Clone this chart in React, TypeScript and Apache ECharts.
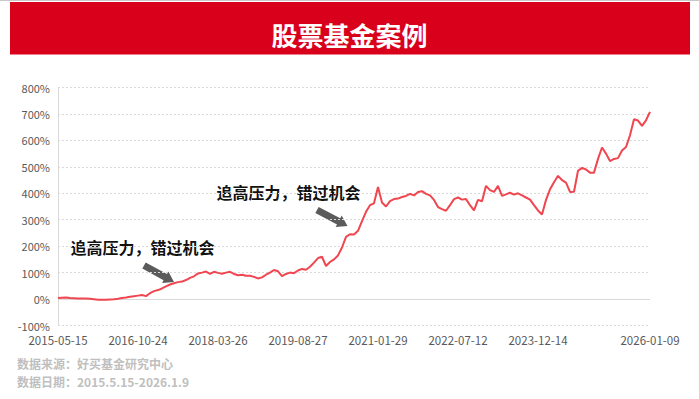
import React, { useEffect, useRef } from "react";
import * as echarts from "echarts";

// Cumulative return (%) sampled along the trading-day axis
const values: number[] = [
  4, 5, 6, 4, 3, 2, 2, 2, 1, -1,
  -3, -3, -3, -2, -1, 1, 4, 6, 9, 11,
  13, 15, 11, 22, 30, 34, 40, 48, 55, 60,
  64, 66, 72, 80, 86, 97, 100, 104, 95, 103,
  99, 96, 100, 103, 95, 90, 92, 88, 88, 84,
  78, 82, 92, 100, 110, 105, 87, 95, 100, 98,
  108, 114, 111, 122, 138, 155, 160, 125, 140, 150,
  165, 195, 235, 245, 244, 258, 295, 330, 355, 362,
  424, 365, 350, 370, 378, 380, 386, 390, 398, 392,
  405, 408, 398, 392, 375, 348, 340, 334, 355, 378,
  384, 376, 378, 355, 335, 375, 370, 428, 412, 405,
  428, 390, 396, 402, 395, 400, 392, 384, 376, 355,
  335, 320, 375, 415, 442, 466, 450, 440, 405, 406,
  485, 496, 490, 478, 478, 530, 573, 550, 522, 530,
  533, 562, 575, 619, 680, 675, 655, 676, 708,
];

const tickLabels = [
  "2015-05-15",
  "2016-10-24",
  "2018-03-26",
  "2019-08-27",
  "2021-01-29",
  "2022-07-12",
  "2023-12-14",
  "2026-01-09",
];
const tickIndex = [0, 20, 40, 60, 80, 100, 120, 148];

const yMin = -100;
const yMax = 800;
const yStep = 100;

const title = "股票基金案例";
const annotation = "追高压力，错过机会";
const footer1 = "数据来源：好买基金研究中心";
const footer2 = "数据日期：2015.5.15-2026.1.9";

const categories = values.map((_, i) => {
  const k = tickIndex.indexOf(i);
  return k >= 0 ? tickLabels[k] : String(i);
});

function arrowPoints(
  x1: number,
  y1: number,
  x2: number,
  y2: number,
  sw: number,
  hw: number,
  hl: number
) {
  const dx = x2 - x1;
  const dy = y2 - y1;
  const L = Math.hypot(dx, dy);
  const ux = dx / L;
  const uy = dy / L;
  const px = -uy;
  const py = ux;
  const bx = x2 - ux * hl;
  const by = y2 - uy * hl;
  return [
    [x1 + (px * sw) / 2, y1 + (py * sw) / 2],
    [bx + (px * sw) / 2, by + (py * sw) / 2],
    [bx + (px * hw) / 2, by + (py * hw) / 2],
    [x2, y2],
    [bx - (px * hw) / 2, by - (py * hw) / 2],
    [bx - (px * sw) / 2, by - (py * sw) / 2],
    [x1 - (px * sw) / 2, y1 - (py * sw) / 2],
  ];
}

const FONT = "'Noto Sans CJK SC', 'Noto Sans', sans-serif";

export default function App() {
  const ref = useRef<HTMLDivElement>(null);

  useEffect(() => {
    if (!ref.current) return;
    const chart = echarts.init(ref.current, undefined, { renderer: "svg" });
    chart.setOption({
      animation: false,
      backgroundColor: "#ffffff",
      grid: { left: 58, right: 49, top: 87.5, bottom: 73.5, containLabel: false },
      xAxis: {
        type: "category",
        data: categories,
        boundaryGap: false,
        axisLine: { show: false },
        axisTick: { show: false },
        splitLine: { show: false },
        axisLabel: {
          interval: (i: number) => tickIndex.includes(i),
          color: "#595959",
          fontSize: 11.5,
          fontFamily: FONT,
          margin: 9,
        },
      },
      yAxis: {
        type: "value",
        min: yMin,
        max: yMax,
        interval: yStep,
        axisLine: { show: true, lineStyle: { color: "#d9d9d9", width: 1 } },
        axisTick: { show: false },
        axisLabel: {
          formatter: "{value}%",
          color: "#595959",
          fontSize: 11,
          fontFamily: FONT,
          margin: 8,
        },
        splitLine: {
          show: true,
          lineStyle: { color: "#d9d9d9", type: [2, 2], width: 1 },
        },
      },
      series: [
        {
          type: "line",
          data: values,
          showSymbol: false,
          symbol: "none",
          smooth: false,
          lineStyle: { color: "#F0464F", width: 2 },
          z: 3,
          markLine: {
            silent: true,
            symbol: "none",
            label: { show: false },
            lineStyle: { color: "#d9d9d9", type: "solid", width: 1 },
            data: [{ yAxis: 0 }],
            z: 1,
          },
        },
      ],
      graphic: [
        {
          type: "rect",
          shape: { x: 0, y: 0, width: 699, height: 1 },
          style: { fill: "#c8c8c8" },
          silent: true,
        },
        {
          type: "rect",
          shape: { x: 10, y: 2, width: 680, height: 52.5 },
          style: { fill: "#D9001B" },
          silent: true,
        },
        {
          type: "text",
          x: 349.5,
          y: 34.5,
          style: {
            text: title,
            fill: "#ffffff",
            font: `bold 26px ${FONT}`,
            textAlign: "center",
            textVerticalAlign: "middle",
          },
          silent: true,
        },
        {
          type: "text",
          x: 70.5,
          y: 246.5,
          style: {
            text: annotation,
            fill: "#111111",
            font: `bold 16px ${FONT}`,
            textAlign: "left",
            textVerticalAlign: "middle",
          },
          silent: true,
        },
        {
          type: "text",
          x: 216.5,
          y: 191.5,
          style: {
            text: annotation,
            fill: "#111111",
            font: `bold 16px ${FONT}`,
            textAlign: "left",
            textVerticalAlign: "middle",
          },
          silent: true,
        },
        {
          type: "polygon",
          shape: { points: arrowPoints(144, 265.5, 174, 282, 7, 13, 10) },
          style: { fill: "#5b5b5b" },
          silent: true,
        },
        {
          type: "polygon",
          shape: { points: arrowPoints(317, 210, 347.5, 226, 7, 13, 10) },
          style: { fill: "#5b5b5b" },
          silent: true,
        },
        {
          type: "text",
          x: 17,
          y: 363.5,
          style: {
            text: footer1,
            fill: "#bfbfbf",
            font: `bold 12px ${FONT}`,
            textAlign: "left",
            textVerticalAlign: "middle",
          },
          silent: true,
        },
        {
          type: "text",
          x: 17,
          y: 381.5,
          style: {
            text: footer2,
            fill: "#bfbfbf",
            font: `bold 12px ${FONT}`,
            textAlign: "left",
            textVerticalAlign: "middle",
          },
          silent: true,
        },
      ],
    });
    return () => chart.dispose();
  }, []);

  return (
    <div
      ref={ref}
      style={{ position: "absolute", left: 0, top: 0, width: 699, height: 399 }}
    />
  );
}
